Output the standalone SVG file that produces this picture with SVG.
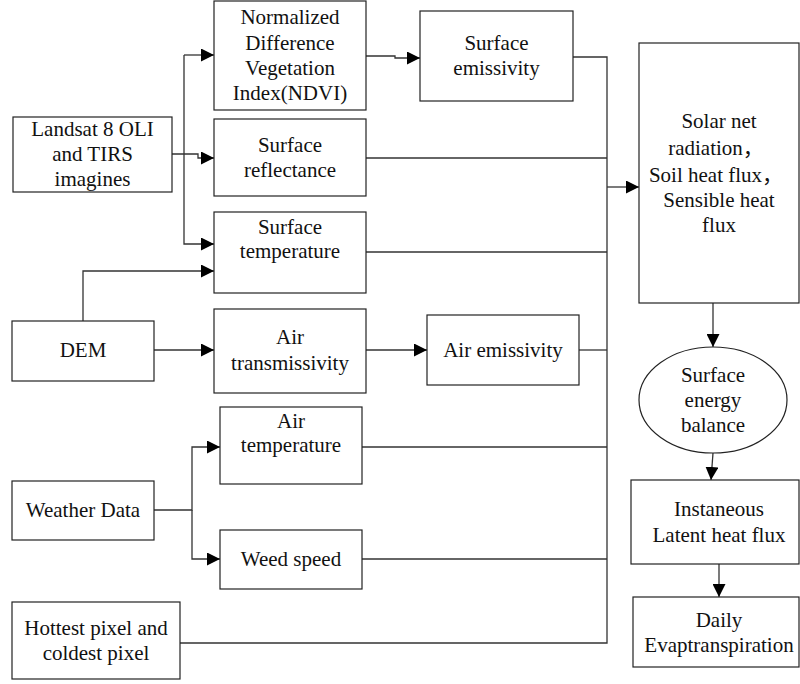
<svg xmlns="http://www.w3.org/2000/svg" width="800" height="684" viewBox="0 0 800 684">
<style>
.box{fill:#fff;stroke:#222;stroke-width:1.2}
.ln{fill:none;stroke:#333;stroke-width:1.3}
.arr{marker-end:url(#ah)}
text{font-family:"Liberation Serif","Times New Roman",serif;font-size:21px;fill:#111;text-anchor:middle}
.cjk{font-family:"Liberation Serif","Noto Sans CJK SC",serif}
</style>
<defs>
<marker id="ah" markerUnits="userSpaceOnUse" markerWidth="13" markerHeight="13" refX="13" refY="6.5" orient="auto">
<path d="M0,0 L13,6.5 L0,13 Z" fill="#000"/>
</marker>
</defs>
<rect width="800" height="684" fill="#fff"/>
<g id="connectors">
<path class="ln arr" d="M184,55 H214"/>
<path class="ln arr" d="M184,55 V244 H214"/>
<path class="ln arr" d="M172,154 H198 V158 H214"/>
<path class="ln arr" d="M366,56 H395 V58 H420"/>
<path class="ln arr" d="M83,321 V271 H214"/>
<path class="ln arr" d="M154,350 H214"/>
<path class="ln arr" d="M366,350 H427"/>
<path class="ln arr" d="M154,510 H192 V447 H220"/>
<path class="ln arr" d="M192,510 V559 H220"/>
<path class="ln" d="M573,57 H607 V643 H180"/>
<path class="ln" d="M366,158 H607"/>
<path class="ln" d="M366,252 H607"/>
<path class="ln" d="M579,350 H607"/>
<path class="ln" d="M362,447 H607"/>
<path class="ln" d="M362,559 H607"/>
<path class="ln arr" d="M607,187 H639"/>
<path class="ln arr" d="M713,303 V347"/>
<path class="ln arr" d="M713,453 L711,480"/>
<path class="ln arr" d="M719,564 V597"/>
</g>
<g id="ndvi"><rect class="box" x="214" y="1" width="152" height="109"/>
<text x="290" y="24">Normalized</text><text x="290" y="50">Difference</text><text x="290" y="75">Vegetation</text><text x="290" y="100">Index(NDVI)</text></g>
<g id="landsat"><rect class="box" x="13" y="117" width="159" height="75"/>
<text x="92.5" y="136">Landsat 8 OLI</text><text x="92.5" y="161">and TIRS</text><text x="92.5" y="186">imagines</text></g>
<g id="reflectance"><rect class="box" x="214" y="119" width="152" height="77"/>
<text x="290" y="152">Surface</text><text x="290" y="177">reflectance</text></g>
<g id="surftemp"><rect class="box" x="214" y="212" width="152" height="81"/>
<text x="290" y="234">Surface</text><text x="290" y="258">temperature</text></g>
<g id="emissivity"><rect class="box" x="420" y="11" width="153" height="90"/>
<text x="496.5" y="50">Surface</text><text x="496.5" y="75">emissivity</text></g>
<g id="fluxes"><rect class="box" x="639" y="43" width="160" height="260"/>
<text x="719" y="128">Solar net</text><text class="cjk" x="716" y="155">radiation，</text><text class="cjk" x="716" y="182">Soil heat flux，</text><text x="719" y="207">Sensible heat</text><text x="719" y="232">flux</text></g>
<g id="dem"><rect class="box" x="12" y="321" width="142" height="60"/>
<text x="83" y="357">DEM</text></g>
<g id="airtrans"><rect class="box" x="214" y="309" width="152" height="84"/>
<text x="290" y="344">Air</text><text x="290" y="370">transmissivity</text></g>
<g id="airemis"><rect class="box" x="427" y="315" width="152" height="70"/>
<text x="503" y="357">Air emissivity</text></g>
<g id="seb"><ellipse class="box" cx="713" cy="400" rx="74" ry="53"/>
<text x="713" y="382">Surface</text><text x="713" y="407">energy</text><text x="713" y="432">balance</text></g>
<g id="airtemp"><rect class="box" x="220" y="407" width="142" height="77"/>
<text x="291" y="428">Air</text><text x="291" y="452">temperature</text></g>
<g id="weather"><rect class="box" x="12" y="481" width="142" height="59"/>
<text x="83" y="517">Weather Data</text></g>
<g id="weed"><rect class="box" x="220" y="530" width="142" height="59"/>
<text x="291" y="566">Weed speed</text></g>
<g id="hottest"><rect class="box" x="12" y="602" width="168" height="77"/>
<text x="96" y="635">Hottest pixel and</text><text x="96" y="660">coldest pixel</text></g>
<g id="latent"><rect class="box" x="631" y="480" width="168" height="84"/>
<text x="719" y="516">Instaneous</text><text x="719" y="542">Latent heat flux</text></g>
<g id="daily"><rect class="box" x="633" y="597" width="166" height="70"/>
<text x="719" y="627">Daily</text><text x="719" y="652">Evaptranspiration</text></g>
</svg>
